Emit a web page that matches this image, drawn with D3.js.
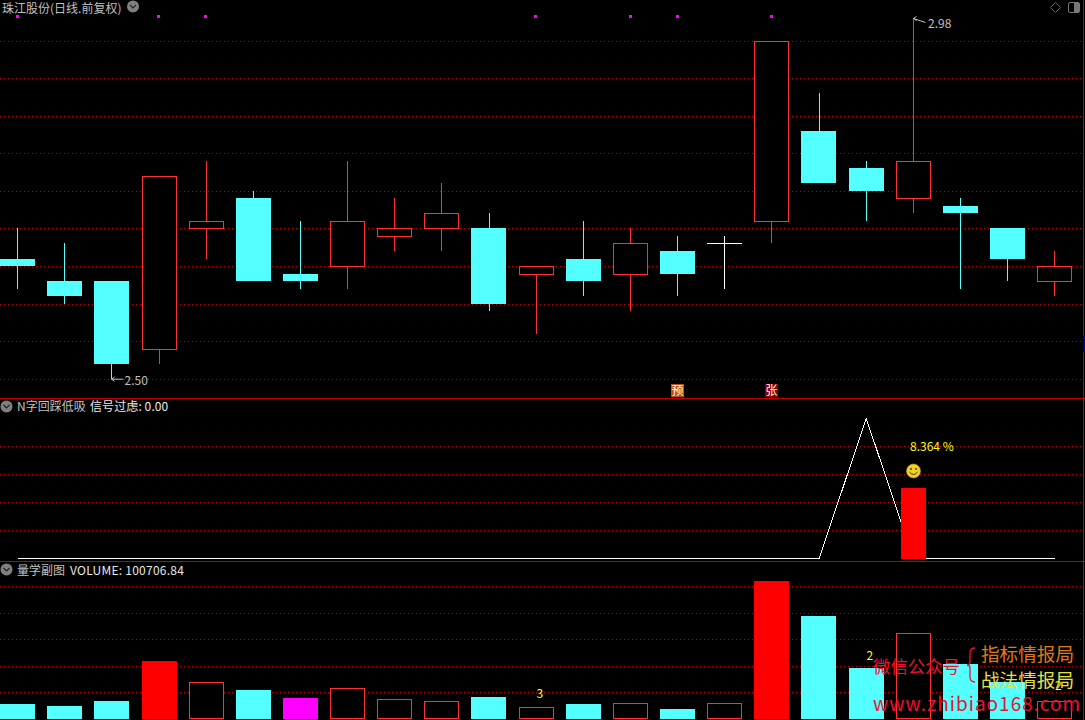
<!DOCTYPE html>
<html><head><meta charset="utf-8">
<script src="https://cdn.jsdelivr.net/npm/d3@7/dist/d3.min.js"></script>
<style>html,body{margin:0;padding:0;background:#000;overflow:hidden}svg{display:block}
text{font-family:"Noto Sans CJK SC","DejaVu Sans",sans-serif}</style></head><body>
<svg id="c" width="1085" height="720"></svg>
<script>
const opens  =[2.66,2.63,2.63,2.54,2.70,2.74,2.64,2.65,2.69,2.70,2.70,2.64,2.66,2.64,2.67,2.68,2.71,2.83,2.78,2.74,2.73,2.70,2.63];
const closes =[2.65,2.61,2.52,2.77,2.71,2.63,2.63,2.71,2.70,2.72,2.60,2.65,2.63,2.68,2.64,2.68,2.95,2.76,2.75,2.79,2.72,2.66,2.65];
const highs  =[2.70,2.68,2.63,2.77,2.79,2.75,2.71,2.79,2.74,2.76,2.72,2.65,2.71,2.70,2.69,2.69,2.95,2.88,2.79,2.98,2.74,2.70,2.67];
const lows   =[2.62,2.60,2.50,2.52,2.66,2.63,2.62,2.62,2.67,2.67,2.59,2.56,2.61,2.59,2.61,2.62,2.68,2.76,2.71,2.72,2.62,2.63,2.61];
const volumes=[84000,73000,101000,325000,207000,162000,117000,173000,112000,101000,123000,67000,84000,90000,56000,90000,772000,576000,285000,481000,308000,207000,100707];
const volumeKinds=["c","c","c","r","h","c","m","h","h","h","c","h","c","h","c","h","r","c","c","h","c","c","h"];
const nLine  =[0,0,0,0,0,0,0,0,0,0,0,0,0,0,0,0,0,0,16.63,0,0,0,0];
const nBars  =[{i:19,v:8.364}];
const markerIdx=[0,3,4,11,13,14,16];
const signalLabels=[{i:14,t:"预",c:"#b5501a"},{i:16,t:"张",c:"#8b0000"}];
const priceGrid=[2.50,2.55,2.60,2.65,2.70,2.75,2.80,2.85,2.90,2.95];
const nGrid=[3.33,6.65,9.98,13.3];
const volGrid=[148000,296000,444000,592000,740000];
const volNotes=[{i:11,t:"3",y:694},{i:18,t:"2",y:656},{i:22,t:"2",y:686}];

const CYAN="#54ffff",RED="#ff3232",FILLRED="#ff0000",GRID="#c00000",FRAME="#c00000";
const svg=d3.select("#c");
svg.append("rect").attr("width",1085).attr("height",720).attr("fill","#000");
const cats=d3.range(opens.length);
const x=d3.scalePoint().domain(cats).range([17.7,1054.8]);
const yP=d3.scaleLinear().domain([2.50,2.98]).range([379.2,18.5]);
const yN=d3.scaleLinear().domain([0,16.63]).range([558.5,418.5]);
const yV=d3.scaleLinear().domain([0,772000]).range([719,581]);
const px=v=>Math.floor(v);
const cy=v=>Math.floor(yP(v)+0.05);
const gCrisp=svg.append("g").attr("shape-rendering","crispEdges");

function grid(vals,scale){
  gCrisp.append("g").selectAll("line").data(vals).join("line")
   .attr("x1",0).attr("x2",1083).attr("y1",d=>px(scale(d))+.5).attr("y2",d=>px(scale(d))+.5)
   .attr("stroke",GRID).attr("stroke-dasharray","1 3");
}
grid(priceGrid,yP);grid(nGrid,yN);grid(volGrid,yV);

// frames
[398,561].forEach(v=>gCrisp.append("line").attr("x1",0).attr("x2",1085).attr("y1",v+.5).attr("y2",v+.5).attr("stroke",FRAME));
gCrisp.append("line").attr("x1",1083.5).attr("x2",1083.5).attr("y1",0).attr("y2",720).attr("stroke",FRAME);
gCrisp.append("rect").attr("x",1083).attr("y",336).attr("width",2).attr("height",16).attr("fill","#000090");

// candles
const colorOf=i=>closes[i]===opens[i]?"#fff":(closes[i]>opens[i]?RED:CYAN);
const cg=gCrisp.append("g");
cg.selectAll(".w").data(cats).join("line").attr("class","w")
  .attr("x1",i=>px(x(i))+.5).attr("x2",i=>px(x(i))+.5)
  .attr("y1",i=>cy(highs[i])).attr("y2",i=>cy(lows[i]))
  .attr("stroke",colorOf);
cg.selectAll(".b").data(cats).join("rect").attr("class","b")
  .each(function(i){
    const s=d3.select(this),top=cy(Math.max(opens[i],closes[i])),bot=cy(Math.min(opens[i],closes[i]));
    if(closes[i]>opens[i]) s.attr("x",Math.round(x(i)-17.5)+.5).attr("y",top+.5).attr("width",34).attr("height",bot-top).attr("fill","#000").attr("stroke",RED);
    else if(closes[i]<opens[i]) s.attr("x",Math.round(x(i)-17.7)).attr("y",top).attr("width",35).attr("height",bot-top).attr("fill",CYAN);
    else s.attr("x",Math.round(x(i)-17.5)).attr("y",top).attr("width",35).attr("height",1).attr("fill","#fff");
  });

// top markers
gCrisp.append("g").selectAll("rect").data(markerIdx).join("rect")
  .attr("x",i=>Math.round(x(i))-2).attr("y",15).attr("width",3).attr("height",3).attr("fill","#ff00ff");

// signal labels
const sg=svg.append("g").selectAll("g").data(signalLabels).join("g");
sg.append("rect").attr("x",d=>px(x(d.i))-6).attr("y",384).attr("width",13).attr("height",13).attr("fill",d=>d.c).attr("shape-rendering","crispEdges");
sg.append("text").attr("x",d=>px(x(d.i))+.5).attr("y",395).attr("text-anchor","middle").attr("font-size",12).attr("fill","#fff").text(d=>d.t);

// extreme labels
const low=d3.min(lows),high=d3.max(highs);
function extreme(i,v,dx,dy,ty){
  const X=px(x(i))+.5,Y=yP(v);
  svg.append("path").attr("d",`M${X+3} ${Y-2}L${X} ${Y}L${X+3} ${Y+2}M${X} ${Y}L${X+12} ${Y+dy}`).attr("fill","none").attr("stroke","#c0c0c0");
  svg.append("text").attr("x",X+dx).attr("y",ty).attr("font-size",12).attr("font-family","Liberation Sans").attr("fill","#c0c0c0").text(v.toFixed(2));
}
extreme(lows.indexOf(low),low,13,0,385);
extreme(highs.indexOf(high),high,14.5,4,28);

// N pane
gCrisp.append("path").datum(nLine).attr("fill","none").attr("stroke","#fff").attr("stroke-width",1)
  .attr("d",d3.line().x((d,i)=>x(i)).y(d=>yN(d)));
gCrisp.append("g").selectAll("rect").data(nBars).join("rect")
  .attr("x",d=>Math.round(x(d.i))-12).attr("width",25).attr("y",d=>px(yN(d.v))).attr("height",d=>559-px(yN(d.v))).attr("fill",FILLRED);
nBars.forEach(d=>{
  const X=px(x(d.i))+.5,Y=471;
  svg.append("text").attr("x",910).attr("y",451).attr("font-size",12).attr("font-family","Liberation Sans").attr("fill","#ffff00").text(d.v.toFixed(3)+" %");
  svg.append("circle").attr("cx",X).attr("cy",Y).attr("r",7).attr("fill","#f0d020").attr("stroke","#b89a10").attr("stroke-width",.6);
  svg.append("circle").attr("cx",X-2.5).attr("cy",Y-2).attr("r",.9).attr("fill","#333");
  svg.append("circle").attr("cx",X+2.5).attr("cy",Y-2).attr("r",.9).attr("fill","#333");
  svg.append("path").attr("d",`M${X-4} ${Y+1}Q${X} ${Y+6} ${X+4} ${Y+1}`).attr("fill","none").attr("stroke","#333").attr("stroke-width",1);
});

// Volume pane
gCrisp.append("g").selectAll("rect").data(cats).join("rect")
 .each(function(i){
   const s=d3.select(this),k=volumeKinds[i],top=Math.round(yV(volumes[i]));
   if(k==="h") s.attr("x",Math.round(x(i)-17.5)+.5).attr("y",top+.5).attr("width",34).attr("height",719-top-1).attr("fill","#000").attr("stroke",RED);
   else s.attr("x",Math.round(x(i)-(k==="r"?17.5:17.7))).attr("y",top).attr("width",35).attr("height",719-top).attr("fill",k==="c"?CYAN:k==="r"?FILLRED:"#ff00ff");
 });
svg.append("g").selectAll("text").data(volNotes).join("text")
 .attr("x",d=>x(d.i)+3.5).attr("y",d=>d.y+4).attr("text-anchor","middle").attr("font-size",12).attr("font-family","Liberation Sans").attr("fill","#ffff00").text(d=>d.t);

// headers
function icon(cx,cy){
  svg.append("circle").attr("cx",cx).attr("cy",cy).attr("r",6).attr("fill","#808080");
  svg.append("path").attr("d",`M${cx-3} ${cy-1.5}L${cx} ${cy+1.5}L${cx+3} ${cy-1.5}`).attr("fill","none").attr("stroke","#222").attr("stroke-width",1.2);
}
function label(xp,yp,t,c,ls){svg.append("text").attr("x",xp).attr("y",yp).attr("font-size",12).attr("fill",c).attr("letter-spacing",ls||0).text(t);}
label(2,13,"珠江股份(日线.前复权)","#c0c0c0");
icon(133,6.5);icon(6.5,406.5);icon(6.5,569.5);
label(17,411,"N字回踩低吸","#c0c0c0");
label(90,411,"信号过虑: 0.00","#e8e8e8",.1);
label(17,575,"量学副图","#c0c0c0");
label(70,575,"VOLUME: 100706.84","#e8e8e8",.25);
svg.append("path").attr("d","M1055.5 2.5L1060.5 7.5L1055.5 12.5L1050.5 7.5Z").attr("fill","none").attr("stroke","#666");
svg.append("rect").attr("x",1068.5).attr("y",2.5).attr("width",11).attr("height",10).attr("rx",1.5).attr("fill","none").attr("stroke","#777");
svg.append("rect").attr("x",1074).attr("y",3).attr("width",5).attr("height",9).attr("fill","#777");

// watermark
function wm(xp,yp,t,c,size,ls){svg.append("text").attr("x",xp).attr("y",yp).attr("font-size",size).attr("fill",c).attr("letter-spacing",ls||0).text(t);}
wm(873,673,"微信公众号","#f01030",17.4);
wm(981,661,"指标情报局","#e07a10",18.6);
wm(981,687,"战法情报局","#e6e040",18.6);
svg.append("path").attr("d","M975 648Q970 648 970 653V662Q970 665 967 665Q970 665 970 668V677Q970 682 975 682").attr("fill","none").attr("stroke","#f01030").attr("stroke-width",1.3);
svg.append("text").attr("x",873).attr("y",711).attr("font-size",19).attr("font-family","Liberation Sans").attr("fill","#f01030").attr("letter-spacing",1).text("www.zhibiao168.com");
</script></body></html>
